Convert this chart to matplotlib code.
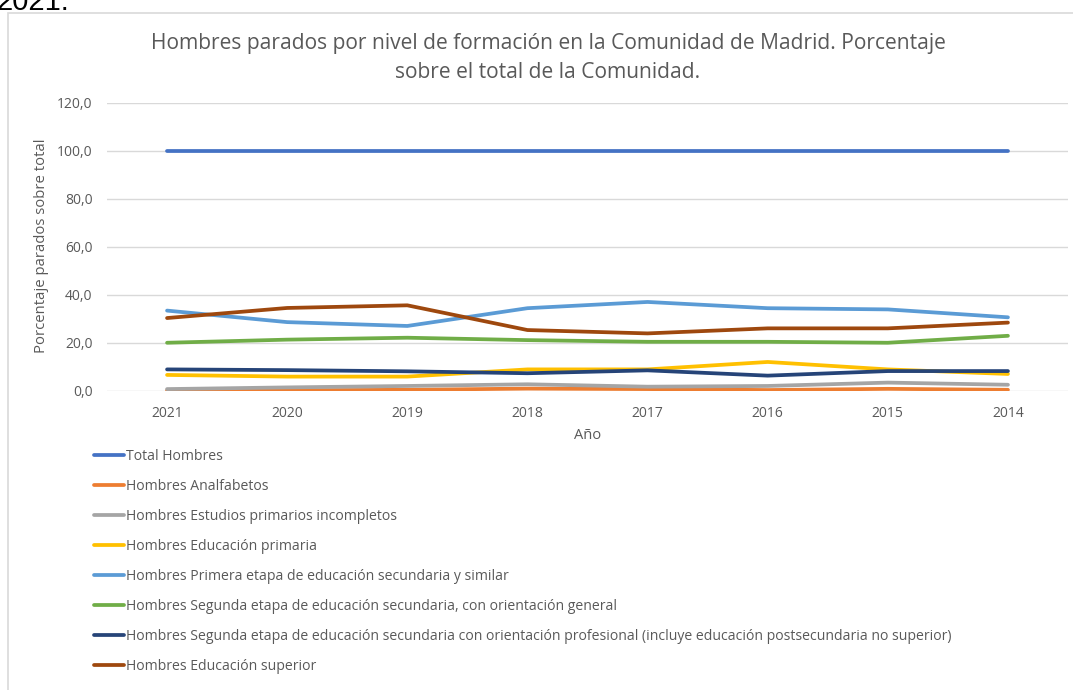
import matplotlib
matplotlib.use('Agg')
import matplotlib.pyplot as plt
from matplotlib.patches import Rectangle

plt.rcParams['font.family'] = ['Open Sans', 'DejaVu Sans']

years = ['2021', '2020', '2019', '2018', '2017', '2016', '2015', '2014']

total = [100.0, 100.0, 100.0, 100.0, 100.0, 100.0, 100.0, 100.0]
analfabetos = [0.2, 0.3, 0.5, 1.0, 0.8, 0.4, 0.9, 0.5]
primarios_incompletos = [0.8, 1.5, 2.1, 2.8, 1.8, 2.1, 3.5, 2.6]
primaria = [6.7, 6.0, 6.0, 9.0, 9.0, 12.1, 9.0, 7.1]
primera_etapa = [33.5, 28.7, 27.1, 34.5, 37.1, 34.5, 34.0, 30.7]
segunda_general = [20.1, 21.4, 22.2, 21.2, 20.5, 20.5, 20.1, 23.0]
segunda_profesional = [9.0, 8.7, 8.2, 7.4, 8.6, 6.4, 8.3, 8.3]
superior = [30.4, 34.6, 35.7, 25.4, 24.0, 26.1, 26.1, 28.5]

series = [
    ('Total Hombres', total, '#4472C4'),
    ('Hombres Analfabetos', analfabetos, '#ED7D31'),
    ('Hombres Estudios primarios incompletos', primarios_incompletos, '#A5A5A5'),
    ('Hombres Educación primaria', primaria, '#FFC000'),
    ('Hombres Primera etapa de educación secundaria y similar', primera_etapa, '#5B9BD5'),
    ('Hombres Segunda etapa de educación secundaria, con orientación general', segunda_general, '#70AD47'),
    ('Hombres Segunda etapa de educación secundaria con orientación profesional '
     '(incluye educación postsecundaria no superior)', segunda_profesional, '#264478'),
    ('Hombres Educación superior', superior, '#9E480E'),
]

W, H = 1073, 690
fig = plt.figure(figsize=(W / 100, H / 100), dpi=100)
ax = fig.add_axes([107 / W, 1 - 391 / H, (1068 - 107) / W, (391 - 103) / H])

x = list(range(len(years)))
for label, vals, color in series:
    ax.plot(x, vals, color=color, lw=2.7, label=label, solid_capstyle='round')

text_gray = '#595959'
ax.set_xlim(-0.5, len(years) - 0.5)
ax.set_ylim(0, 120)
ax.set_yticks(range(0, 121, 20))
ax.set_yticklabels([f'{v},0' for v in range(0, 121, 20)])
ax.set_xticks(x)
ax.set_xticklabels(years)
ax.tick_params(length=0, labelsize=10, colors=text_gray)
ax.tick_params(axis='y', pad=10.5)
ax.tick_params(axis='x', pad=10.5)
ax.grid(axis='y', color='#D9D9D9', lw=1)
ax.set_axisbelow(True)
for s in ax.spines.values():
    s.set_visible(False)

ax.set_xlabel('Año', fontsize=10.5, color=text_gray, labelpad=5)
fig.text(42 / W, 1 - 246 / H, 'Porcentaje parados sobre total', rotation=90,
         ha='center', va='center', fontsize=10.7, color=text_gray)

fig.text(548 / W, 1 - 43 / H, 'Hombres parados por nivel de formación en la Comunidad de Madrid. Porcentaje',
         ha='center', va='center', fontsize=15.1, color=text_gray)
fig.text(548 / W, 1 - 72 / H, 'sobre el total de la Comunidad.',
         ha='center', va='center', fontsize=15.1, color=text_gray)

# chart area border
fig.patches.append(Rectangle((8 / W, -0.1), 1.2, 1.1 - 13 / H, transform=fig.transFigure,
                             fill=False, edgecolor='#D9D9D9', lw=1.2))

fig.text(-4 / W, 1 - 10 / H, '2021.', ha='left', va='baseline', fontsize=21,
         color='black', family=['Liberation Sans', 'DejaVu Sans'])

handles, labels = ax.get_legend_handles_labels()
leg = fig.legend(handles, labels, loc='upper left',
                 bbox_to_anchor=(88 / W, 1 - 443 / H), frameon=False,
                 fontsize=10.1, labelcolor=text_gray, handlelength=2.15,
                 handletextpad=0.13, labelspacing=1.07, borderaxespad=0)

fig.savefig('out.png', dpi=100)
